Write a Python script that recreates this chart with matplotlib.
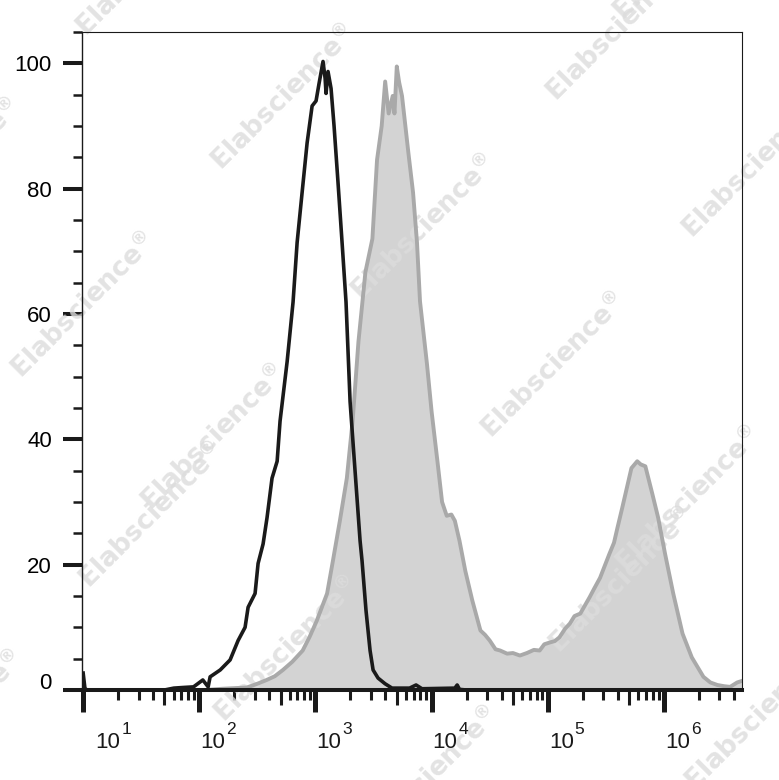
import numpy as np
import matplotlib.pyplot as plt
from matplotlib import transforms
from matplotlib.ticker import FixedLocator, NullFormatter

plt.rcParams['font.family'] = ['Liberation Sans', 'DejaVu Sans']
plt.rcParams['mathtext.fontset'] = 'custom'
plt.rcParams['mathtext.rm'] = 'Liberation Sans'
plt.rcParams['mathtext.default'] = 'regular'

# isotype control (black line): log10 fluorescence vs % of max
iso_log = [1.00, 1.015, 1.03, 1.70, 1.78, 1.86, 1.95, 2.03,
           2.076, 2.093, 2.18, 2.265, 2.334, 2.394, 2.42, 2.48, 2.506, 2.549,
           2.583, 2.626, 2.67, 2.695, 2.756, 2.807, 2.842, 2.885, 2.928, 2.971,
           3.005, 3.031, 3.065, 3.083, 3.091, 3.108, 3.134, 3.16, 3.194, 3.229,
           3.263, 3.298, 3.341, 3.384, 3.401, 3.435, 3.47, 3.496, 3.539, 3.599,
           3.659, 3.728, 3.81, 3.866, 3.917, 4.20, 4.22, 4.24, 4.30, 6.70]
iso_pct = [2.7, 0.3, 0, 0, 0.3, 0.4, 0.5, 1.6,
           0.5, 2.1, 3.2, 4.8, 7.9, 10, 13.2, 15.4, 20.2, 23.3,
           27.5, 33.8, 36.5, 42.9, 52.4, 61.9, 71.4, 79.4, 87.3, 93.2,
           94, 96.8, 100.3, 97.6, 95.2, 98.7, 96, 90, 81, 71.4,
           61.9, 46, 34.9, 23.8, 20.6, 12.7, 6.3, 3.2, 1.9, 1,
           0.3, 0.3, 0.3, 0.8, 0.2, 0.3, 0.8, 0.1, 0, 0]

# stained sample (grey filled histogram)
stain_log = [2.05, 2.20, 2.41, 2.50, 2.58,
             2.65, 2.72, 2.80, 2.89, 2.95,
             3.01, 3.10, 3.15, 3.21, 3.27,
             3.32, 3.37, 3.43, 3.49, 3.53,
             3.57, 3.60, 3.63, 3.665, 3.68,
             3.70, 3.72, 3.745, 3.80, 3.84,
             3.874, 3.90, 3.96, 4.00, 4.05,
             4.09, 4.13, 4.17, 4.20, 4.24,
             4.29, 4.35, 4.42, 4.46, 4.50,
             4.55, 4.59, 4.65, 4.70, 4.76,
             4.82, 4.88, 4.93, 4.97, 5.02,
             5.06, 5.10, 5.15, 5.19, 5.23,
             5.28, 5.32, 5.36, 5.40, 5.45,
             5.49, 5.53, 5.57, 5.60, 5.64,
             5.68, 5.72, 5.77, 5.80, 5.84,
             5.87, 5.90, 5.95, 6.01, 6.08,
             6.16, 6.24, 6.34, 6.40, 6.46,
             6.52, 6.57, 6.63, 6.68]
stain_pct = [0, 0.2, 0.4, 1.0, 1.6,
             2.2, 3.2, 4.5, 6.3, 8.5,
             11, 15.4, 20.6, 27, 33.8,
             43, 55.6, 66.7, 72, 84.6,
             90, 97.1, 92, 94.8, 92,
             99.5, 97, 94.8, 85.7, 79.4,
             71.4, 62, 52, 44.4, 36.5,
             30, 27.8, 28, 27, 23.8,
             19, 14.3, 9.5, 8.8, 7.9,
             6.5, 6.3, 5.8, 5.9, 5.5,
             5.9, 6.4, 6.3, 7.3, 7.6,
             7.8, 8.4, 9.8, 10.6, 11.8,
             12.2, 13.5, 14.8, 16.2, 17.9,
             19.8, 21.7, 23.5, 25.9, 29,
             32.2, 35.4, 36.5, 36, 35.7,
             33.5, 31.3, 27.5, 21.7, 15.4,
             9, 5.2, 2.1, 1.2, 0.8,
             0.6, 0.5, 1.2, 1.5]

x_decades = [1, 2, 3, 4, 5, 6]
y_major = [0, 20, 40, 60, 80, 100]

W, H = 779, 780
fig = plt.figure(figsize=(W / 100, H / 100), dpi=100)
ax = fig.add_axes([82 / W, 90 / H, 660 / W, 658 / H])

xs = 10 ** np.array(stain_log)
ax.fill_between(xs, stain_pct, 0, color="#d3d3d3", lw=0, zorder=1)
ax.plot(xs, stain_pct, color="#a9a9a9", lw=2.8, zorder=1.8)
ax.plot(10 ** np.array(iso_log), iso_pct, color="#1a1a1a", lw=2.6, zorder=2)

ax.set_xscale("log")
ax.set_xlim(10 ** 0.99, 10 ** 6.672)
ax.set_ylim(0, 105)

# ticks
majors = [10.0 ** d for d in x_decades]
minors = [s * 10.0 ** d for d in x_decades for s in range(2, 10)]
minors = [m for m in minors if m < 10 ** 6.672]
ax.xaxis.set_major_locator(FixedLocator(majors))
ax.xaxis.set_major_formatter(NullFormatter())
ax.xaxis.set_minor_locator(FixedLocator(minors))
ax.xaxis.set_minor_formatter(NullFormatter())
ax.set_yticks(y_major)
ax.set_yticks(np.arange(5, 106, 5), minor=True)

ax.tick_params(axis="x", which="major", direction="out", length=15.8, width=3.6,
               color="#1a1a1a")
ax.tick_params(axis="x", which="minor", direction="out", length=7.2, width=2.2,
               color="#1a1a1a")
ax.tick_params(axis="y", which="major", direction="out", length=13.7, width=2.9,
               pad=8, labelsize=16, color="#1a1a1a")
ax.tick_params(axis="y", which="minor", direction="out", length=6.5, width=1.8,
               color="#1a1a1a")
ax.tick_params(top=False, right=False, which="both")

# "0" label sits a little above its tick
yl = ax.get_yticklabels()[0]
yl.set_transform(yl.get_transform() + transforms.ScaledTranslation(0, 9 / 100, fig.dpi_scale_trans))

# decade labels: "10" plus a large superscript, left-aligned at the tick
for d in x_decades:
    dx = 12 if d == 1 else 1
    ax.annotate("10", xy=(10.0 ** d, 0), xycoords=("data", "axes fraction"),
                xytext=(dx, -58), textcoords="offset pixels",
                ha="left", va="baseline", fontsize=16, color="#1a1a1a",
                annotation_clip=False)
    ax.annotate(str(d), xy=(10.0 ** d, 0), xycoords=("data", "axes fraction"),
                xytext=(dx + 26, -44), textcoords="offset pixels",
                ha="left", va="baseline", fontsize=12.5, color="#1a1a1a",
                annotation_clip=False)

# mid-decade ticks (5 x 10^k) are a bit longer
locs = ax.xaxis.get_minorticklocs()
for loc, t in zip(locs, ax.xaxis.get_minor_ticks(len(locs))):
    if abs(loc / 10 ** np.floor(np.log10(loc)) - 5) < 1e-6:
        t.tick1line.set_markersize(10.8)

for side in ["top", "right"]:
    ax.spines[side].set_linewidth(0.8)
ax.spines["left"].set_linewidth(1.0)
ax.spines["bottom"].set_linewidth(2.9)
for s in ax.spines.values():
    s.set_color("#1a1a1a")

# watermark, pixel coordinates (y down)
px = transforms.Affine2D().scale(1 / W, -1 / H).translate(0, 1) + fig.transFigure
wm_base = [(87, 38), (624, 22), (557, 103), (222, 172), (693, 240), (-113, 246),
           (362, 302), (22, 380), (492, 440), (152, 512)]
for k in (0, 1):
    for (wx, wy) in wm_base:
        x0, y0 = wx + 3 * k, wy + 552 * k
        if y0 - 145 > H:
            continue
        ax.text(x0, y0, "Elabscience$^{®}$", transform=px,
                rotation=45, rotation_mode="anchor", ha="left", va="baseline",
                fontsize=19, family="DejaVu Sans", fontweight="bold",
                color="#dcdcdc", alpha=0.8, zorder=1.6, clip_on=False)

fig.savefig("out.png", dpi=100)
